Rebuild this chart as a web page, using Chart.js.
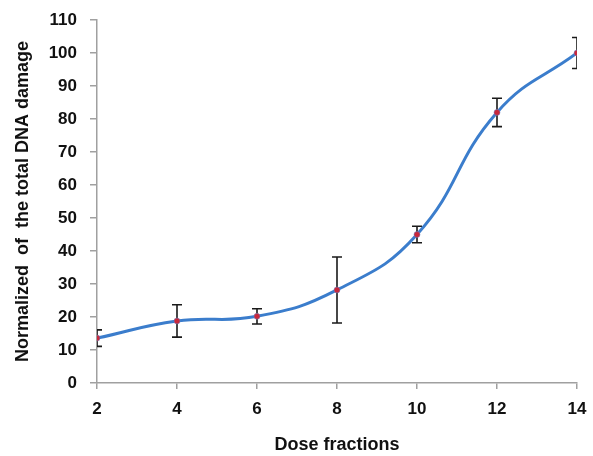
<!DOCTYPE html>
<html>
<head>
<meta charset="utf-8">
<script src="https://cdn.jsdelivr.net/npm/chart.js@4/dist/chart.umd.min.js"></script>
<style>
  html, body { margin: 0; padding: 0; background: #fff; }
  #wrap { width: 593px; height: 456px; }
</style>
</head>
<body>
<div id="wrap"><canvas id="chart-dna-damage"></canvas></div>
<script>
// data
const doseFractions = [2, 4, 6, 8, 10, 12, 14];
const damageValues = [13.6, 18.8, 20.2, 28.2, 45.0, 82.0, 100.0];
const damageErrors = [2.5, 4.9, 2.3, 10.0, 2.5, 4.3, 4.7];
const xTicks = [2, 4, 6, 8, 10, 12, 14];
const yTicks = [0, 10, 20, 30, 40, 50, 60, 70, 80, 90, 100, 110];

const fontFamily = 'Liberation Sans, Arial, sans-serif';
const tickFont = { family: fontFamily, size: 17, weight: 'bold' };
const titleFont = { family: fontFamily, size: 18, weight: 'bold' };

// error bars, clipped at the plot's left/right edges like in the original
const errorBars = {
    id: 'errorBars',
    beforeDatasetsDraw(chart) {
        const ctx = chart.ctx;
        const xs = chart.scales.x, ys = chart.scales.y;
        const area = chart.chartArea;
        ctx.save();
        ctx.beginPath();
        ctx.rect(area.left, area.top - 20, area.right - area.left, area.bottom - area.top + 20);
        ctx.clip();
        ctx.strokeStyle = '#1a1a1a';
        ctx.lineWidth = 1.6;
        damageValues.forEach(function (v, i) {
            const x = xs.getPixelForValue(doseFractions[i]);
            const yTop = ys.getPixelForValue(v + damageErrors[i]);
            const yBot = ys.getPixelForValue(v - damageErrors[i]);
            ctx.beginPath();
            ctx.moveTo(x, yTop); ctx.lineTo(x, yBot);
            ctx.moveTo(x - 5, yTop); ctx.lineTo(x + 5, yTop);
            ctx.moveTo(x - 5, yBot); ctx.lineTo(x + 5, yBot);
            ctx.stroke();
        });
        ctx.restore();
    }
};

let cdd = document.getElementById("chart-dna-damage").getContext("2d");
let chart_dna_damage = new Chart(cdd, {
    type: 'line',
    data: {
        datasets: [{
            label: 'DNA damage',
            data: doseFractions.map((x, i) => ({ x: x, y: damageValues[i] })),
            borderColor: '#3b7dcc',
            borderWidth: 3,
            tension: 0.45,
            pointRadius: 3,
            pointBackgroundColor: '#c8283c',
            pointBorderColor: '#6c86c8',
            pointBorderWidth: 0.5,
            fill: false
        }]
    },
    options: {
        responsive: true,
        maintainAspectRatio: false,
        animation: false,
        layout: {
            padding: { top: 0, right: 0, bottom: 0, left: 0 }
        },
        scales: {
            x: {
                type: 'linear',
                min: 2,
                max: 14,
                afterBuildTicks: function (scale) {
                    scale.ticks = xTicks.map(v => ({ value: v }));
                },
                afterFit: function (scale) {
                    scale.paddingRight = 16;
                },
                ticks: { color: '#111', font: tickFont, padding: 10 },
                grid: { drawOnChartArea: false, tickLength: 6, color: '#a0a0a0', lineWidth: 1.5 },
                border: { color: '#a0a0a0', width: 1.5 },
                title: { display: true, text: 'Dose fractions', color: '#111', font: titleFont, padding: { top: 5, bottom: 0 } }
            },
            y: {
                min: 0,
                max: 110,
                afterBuildTicks: function (scale) {
                    scale.ticks = yTicks.map(v => ({ value: v }));
                },
                afterFit: function (scale) {
                    scale.width = 97;
                    scale.paddingTop = 20;
                },
                ticks: { color: '#111', font: tickFont, padding: 13 },
                grid: { drawOnChartArea: false, tickLength: 7, color: '#a0a0a0', lineWidth: 1.5 },
                border: { color: '#a0a0a0', width: 1.5 },
                title: { display: true, text: 'Normalized  of  the total DNA damage', color: '#111', font: titleFont, padding: { top: 12, bottom: 6 } }
            }
        },
        plugins: {
            legend: { display: false },
            tooltip: { enabled: false }
        }
    },
    plugins: [errorBars]
});
</script>
</body>
</html>
